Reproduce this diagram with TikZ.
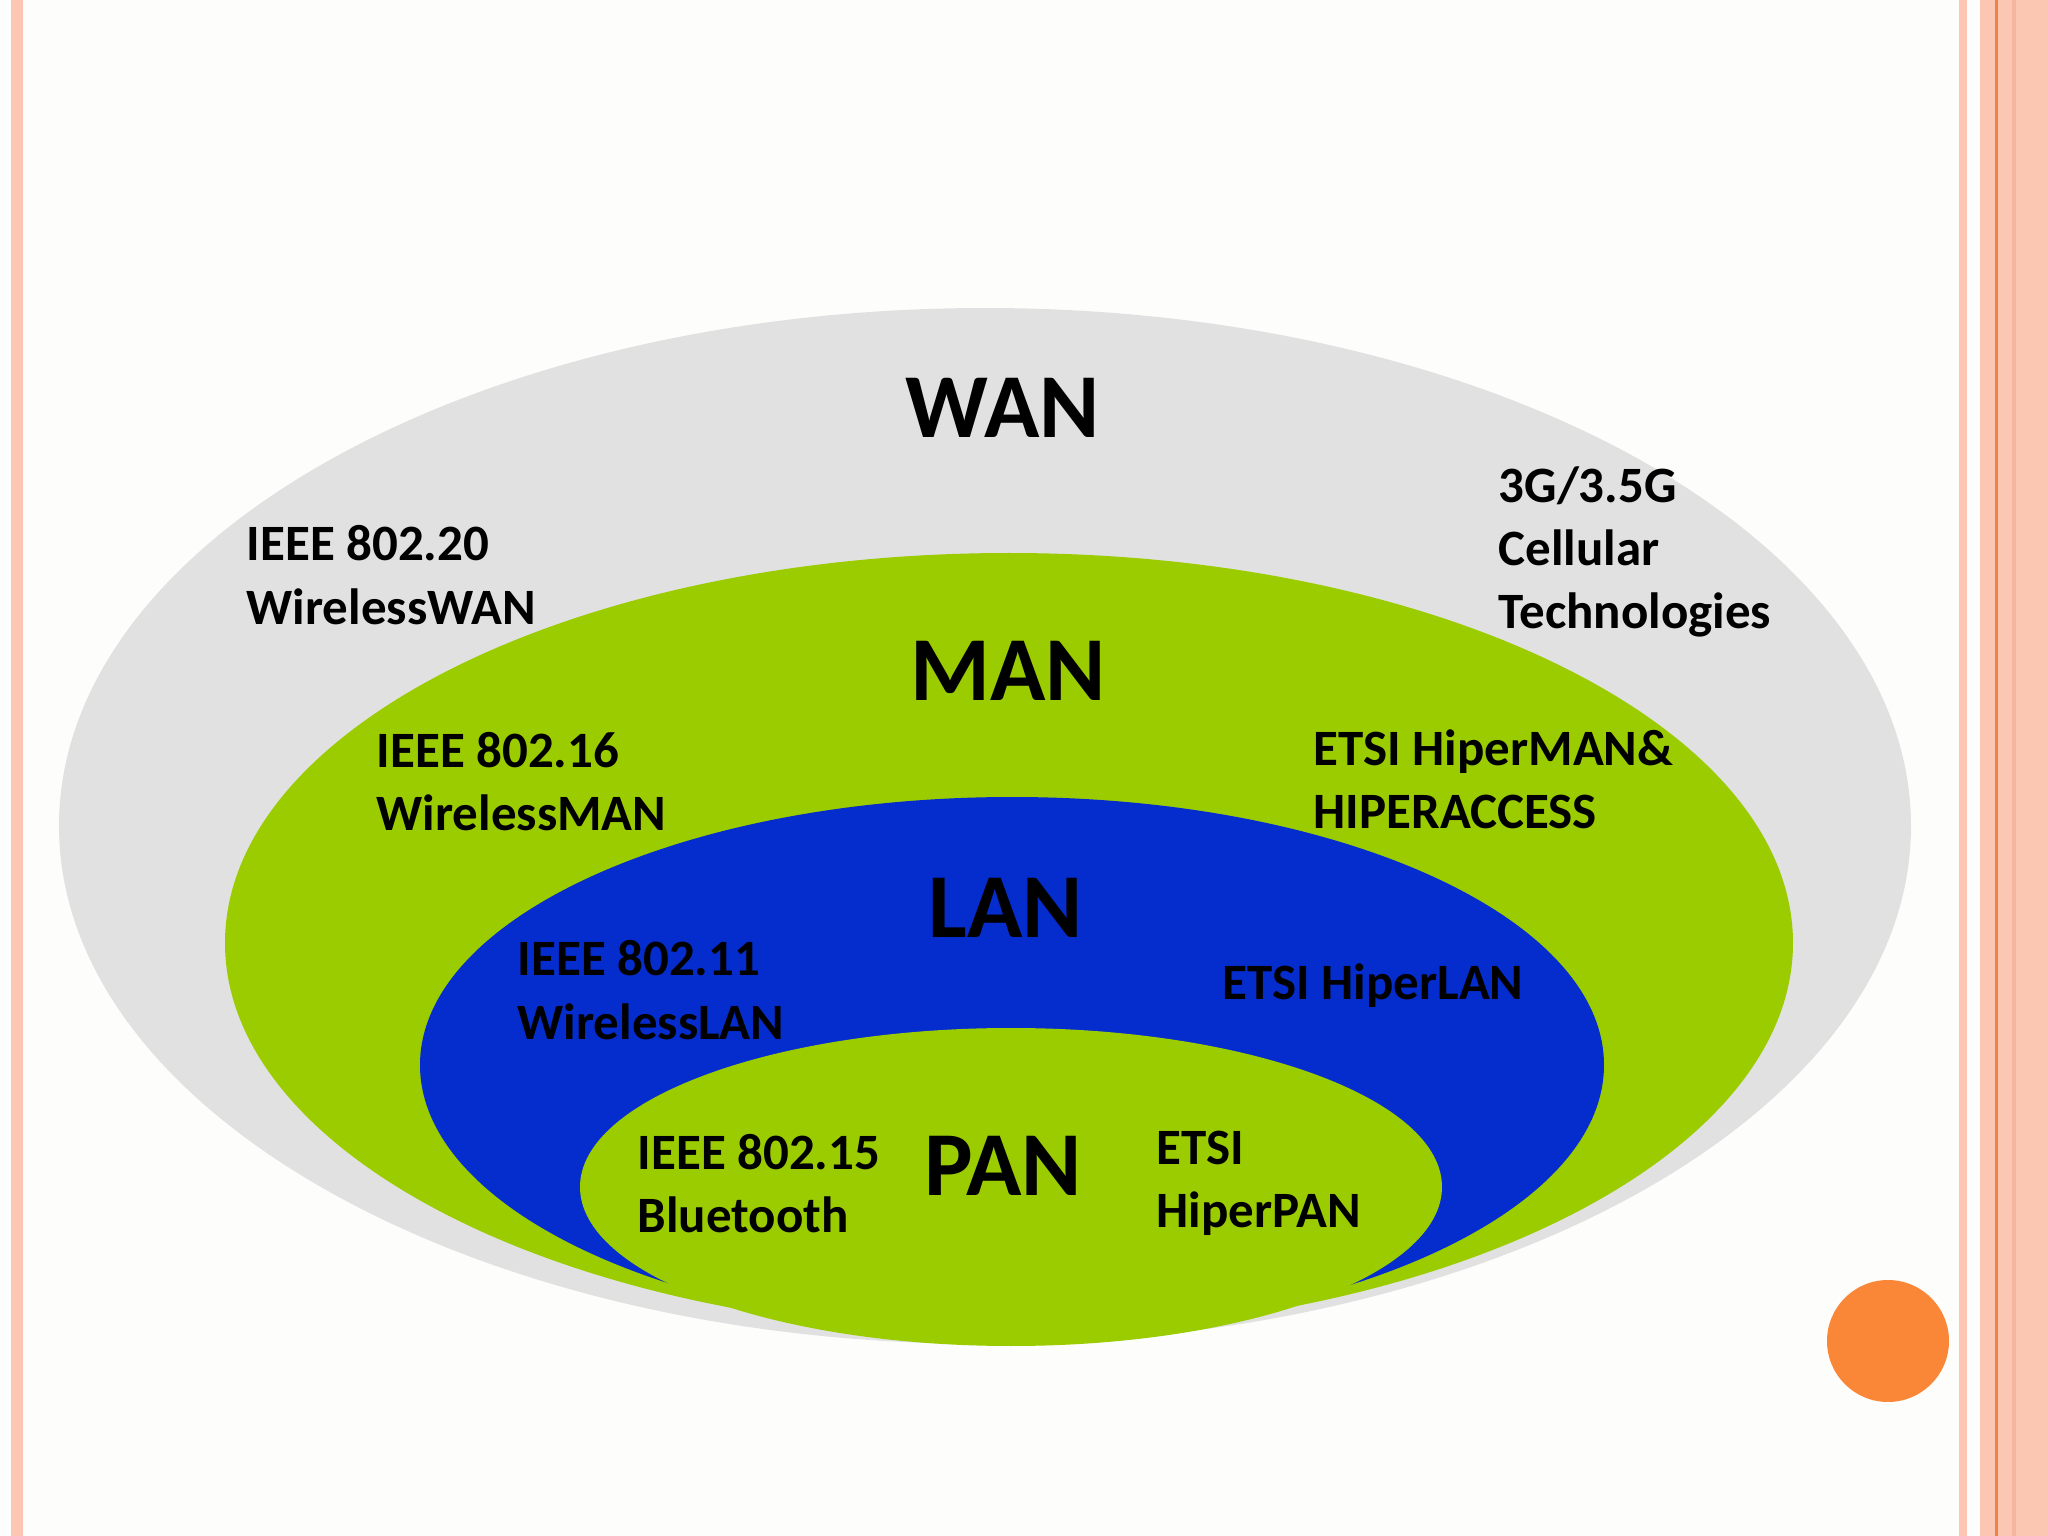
\documentclass[tikz,border=0pt]{standalone}
\usepackage{fontspec}
\setmainfont{Carlito}
\definecolor{paper}{RGB}{253,254,252}
\definecolor{wangray}{RGB}{225,225,225}
\definecolor{mangreen}{RGB}{155,204,0}
\definecolor{lanblue}{RGB}{5,45,205}
\definecolor{salmon}{RGB}{251,198,178}
\definecolor{salmondark}{RGB}{245,182,160}
\definecolor{rustline}{RGB}{240,130,70}
\definecolor{dotorange}{RGB}{250,135,55}

\tikzset{
    title/.style={font=\fontsize{26}{30}\selectfont\bfseries, inner sep=0pt},
    tech/.style={font=\fontsize{14.5}{18}\selectfont\bfseries, align=left, anchor=west, inner sep=0pt}
}

\begin{document}
\begin{tikzpicture}
        \useasboundingbox (0,0) rectangle (20.48,-15.36);
        \fill[paper] (0,0) rectangle (20.48,-15.36);

        % slide borders
        \fill[salmon] (0.11,0) rectangle (0.23,-15.36);
        \fill[salmon] (19.59,0) rectangle (19.67,-15.36);
        \fill[salmon] (19.80,0) rectangle (20.48,-15.36);
        \fill[salmondark] (20.12,0) rectangle (20.16,-15.36);
        \draw[rustline, line width=0.6pt] (19.965,0) -- (19.965,-15.36);
        \fill[dotorange] (18.88,-13.41) circle (0.61);

        % draw the sets
        \fill[wangray] (9.85,-8.26) ellipse (9.26cm and 5.18cm);
        \fill[mangreen] (10.09,-9.43) ellipse (7.84cm and 3.90cm);
        \fill[lanblue] (10.12,-10.65) ellipse (5.92cm and 2.68cm);
        \fill[mangreen] (10.11,-11.87) ellipse (4.31cm and 1.59cm);

        % names
        \node[title] (wan) at (10.03,-4.08) {WAN};
        \node[title] (man) at (10.08,-6.71) {MAN};
        \node[title] (lan) at (10.06,-9.08) {LAN};
        \node[title] (pan) at (10.03,-11.66) {PAN};

        % WAN
        \node[tech] (ieee20) at (2.46,-5.75) {IEEE 802.20\\WirelessWAN};
        \node[tech] (cellular) at (14.98,-5.52) {3G/3.5G\\Cellular\\Technologies};

        % MAN
        \node[tech] (ieee16) at (3.76,-7.815) {IEEE 802.16\\WirelessMAN};
        \node[tech] (hiperman) at (13.13,-7.79) {ETSI HiperMAN\&\\HIPERACCESS};

        % LAN
        \node[tech] (ieee11) at (5.17,-9.90) {IEEE 802.11\\WirelessLAN};
        \node[tech] (hiperlan) at (12.22,-9.86) {ETSI HiperLAN};

        % PAN
        \node[tech] (ieee15) at (6.37,-11.835) {IEEE 802.15\\Bluetooth};
        \node[tech] (hiperpan) at (11.56,-11.835) {ETSI\\HiperPAN};
    \end{tikzpicture}
\end{document}
